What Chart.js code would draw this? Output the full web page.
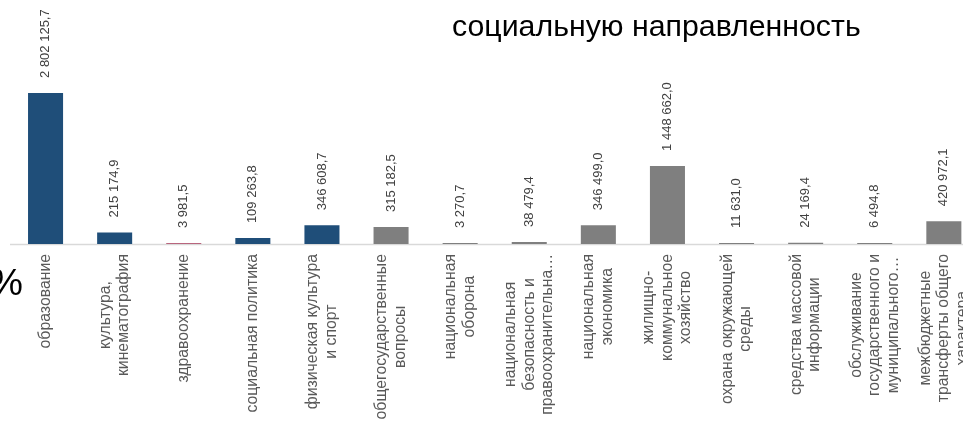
<!DOCTYPE html>
<html lang="ru">
<head>
    <meta charset="UTF-8">
    <title>Социальная направленность</title>
    <script src="https://cdn.jsdelivr.net/npm/chart.js"></script>
    <style>
        body {
            margin: 0;
            padding: 0;
            background: #ffffff;
            width: 963px;
            height: 421px;
            overflow: hidden;
            position: relative;
            font-family: "Liberation Sans", Arial, sans-serif;
        }

        #chartBox {
            position: absolute;
            left: 0;
            top: 0;
        }

        .title {
            position: absolute;
            left: 452px;
            top: 9px;
            font-size: 30.3px;
            color: #000000;
            white-space: nowrap;
        }

        .percent {
            position: absolute;
            left: -10px;
            top: 262px;
            font-size: 37px;
            color: #000000;
        }
    </style>
</head>
<body>
    <div id="chartBox"><canvas id="budgetChart" width="990" height="421"></canvas></div>
    <div class="title">социальную направленность</div>
    <div class="percent">%</div>

    <script>
        // Разделы расходов (подписи по строкам, как в исходной диаграмме)
        const categories = [
            ['образование'],
            ['культура,', 'кинематография'],
            ['здравоохранение'],
            ['социальная политика'],
            ['физическая культура', 'и спорт'],
            ['общегосударственные', 'вопросы'],
            ['национальная', 'оборона'],
            ['национальная', 'безопасность и', 'правоохранительна…'],
            ['национальная', 'экономика'],
            ['жилищно-', 'коммунальное', 'хозяйство'],
            ['охрана окружающей', 'среды'],
            ['средства массовой', 'информации'],
            ['обслуживание', 'государственного и', 'муниципального…'],
            ['межбюджетные', 'трансферты общего', 'характера']
        ];

        // Суммы расходов
        const values = [2802125.7, 215174.9, 3981.5, 109263.8, 346608.7, 315182.5, 3270.7,
                        38479.4, 346499.0, 1448662.0, 11631.0, 24169.4, 6494.8, 420972.1];

        // Цвет столбцов: синий - социальные, серый - прочие
        const barColors = ['#1f4e79', '#1f4e79', '#b9667e', '#1f4e79', '#1f4e79', '#7f7f7f', '#7f7f7f',
                           '#7f7f7f', '#7f7f7f', '#7f7f7f', '#7f7f7f', '#7f7f7f', '#7f7f7f', '#7f7f7f'];

        const yMax = 3000000;

        // 2802125.7 -> "2 802 125,7"
        function formatValue(v) {
            const parts = v.toFixed(1).split('.');
            const intPart = parts[0].replace(/\B(?=(\d{3})+(?!\d))/g, ' ');
            return intPart + ',' + parts[1];
        }

        // Подписи значений, подписи категорий и линия оси
        const labelsPlugin = {
            id: 'labelsPlugin',
            beforeDatasetsDraw(chart) {
                const ctx = chart.ctx;
                const y0 = chart.scales.y.getPixelForValue(0);
                ctx.save();
                ctx.strokeStyle = '#d9d9d9';
                ctx.lineWidth = 1.5;
                ctx.beginPath();
                ctx.moveTo(10, y0 + 0.5);
                ctx.lineTo(chart.width, y0 + 0.5);
                ctx.stroke();
                ctx.restore();
            },
            afterDatasetsDraw(chart) {
                const ctx = chart.ctx;
                const meta = chart.getDatasetMeta(0);
                const xScale = chart.scales.x;
                const y0 = chart.scales.y.getPixelForValue(0);
                ctx.save();

                // значения над столбцами
                ctx.font = '13px "Liberation Sans", Arial, sans-serif';
                ctx.fillStyle = '#404040';
                ctx.textAlign = 'left';
                ctx.textBaseline = 'middle';
                meta.data.forEach((bar, i) => {
                    ctx.save();
                    ctx.translate(bar.x, bar.y - 15);
                    ctx.rotate(-Math.PI / 2);
                    ctx.fillText(formatValue(values[i]), 0, 0);
                    ctx.restore();
                });

                // подписи категорий
                ctx.font = '15.8px "Liberation Sans", Arial, sans-serif';
                ctx.fillStyle = '#595959';
                ctx.textAlign = 'center';
                const lineH = 18.5;
                categories.forEach((lines, i) => {
                    const x = xScale.getPixelForValue(i);
                    let maxW = 0;
                    lines.forEach(t => { maxW = Math.max(maxW, ctx.measureText(t).width); });
                    const cy = y0 + 10 + maxW / 2;
                    lines.forEach((t, k) => {
                        const dx = (k - (lines.length - 1) / 2) * lineH;
                        ctx.save();
                        ctx.translate(x + dx, cy);
                        ctx.rotate(-Math.PI / 2);
                        ctx.fillText(t, 0, 0);
                        ctx.restore();
                    });
                });
                ctx.restore();
            }
        };

        new Chart(document.getElementById('budgetChart'), {
            type: 'bar',
            data: {
                labels: categories,
                datasets: [{
                    data: values,
                    backgroundColor: barColors,
                    borderWidth: 0,
                    categoryPercentage: 1,
                    barPercentage: 0.507,
                    minBarLength: 1
                }]
            },
            options: {
                responsive: false,
                animation: false,
                devicePixelRatio: 1,
                layout: {
                    padding: { left: 11, right: 11.6, top: 82.3, bottom: 177 }
                },
                plugins: {
                    legend: { display: false },
                    tooltip: { enabled: false }
                },
                scales: {
                    x: { display: false },
                    y: { display: false, min: 0, max: yMax }
                }
            },
            plugins: [labelsPlugin]
        });
    </script>
</body>
</html>
